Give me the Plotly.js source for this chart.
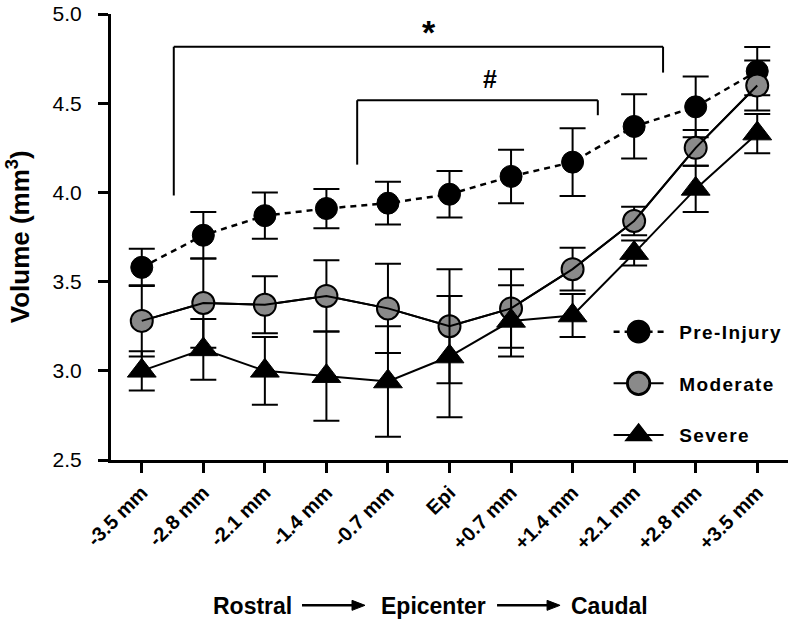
<!DOCTYPE html>
<html>
<head>
<meta charset="utf-8">
<script src="https://cdn.plot.ly/plotly-3.0.1.min.js"></script>
<style>html,body{margin:0;padding:0;background:#fff;}</style>
</head>
<body>
<div id="chart" style="width:792px;height:622px;"></div>
<script>
const categories = ["-3.5 mm","-2.8 mm","-2.1 mm","-1.4 mm","-0.7 mm","Epi","+0.7 mm","+1.4 mm","+2.1 mm","+2.8 mm","+3.5 mm"];
const preInjury = [3.58, 3.76, 3.87, 3.91, 3.94, 3.99, 4.09, 4.17, 4.37, 4.48, 4.68];
const preInjuryErr = [0.105, 0.13, 0.13, 0.11, 0.12, 0.13, 0.15, 0.19, 0.18, 0.17, 0.135];
const moderate = [3.28, 3.38, 3.37, 3.42, 3.35, 3.25, 3.35, 3.57, 3.84, 4.25, 4.60];
const moderateErr = [0.20, 0.25, 0.16, 0.20, 0.25, 0.32, 0.22, 0.12, 0.08, 0.10, 0.14];
const severe = [3.00, 3.12, 3.00, 2.97, 2.94, 3.08, 3.28, 3.31, 3.66, 4.02, 4.33];
const severeErr = [0.11, 0.17, 0.19, 0.25, 0.31, 0.34, 0.20, 0.12, 0.07, 0.13, 0.11];
const seriesNames = ["Pre-Injury", "Moderate", "Severe"];
const yTicks = [2.5, 3.0, 3.5, 4.0, 4.5, 5.0];
// significance brackets: [leftIndex, rightIndex, topValue, leftBottom, rightBottom, label, labelIndex, labelValue, labelSize]
const brackets = [
  [0.52, 8.47, 4.817, 3.983, 4.672, "*", 4.67, 4.90, 34],
  [3.50, 7.41, 4.517, 4.156, 4.433, "#", 5.66, 4.635, 25]
];
const directionLabels = ["Rostral", "Epicenter", "Caudal"];

const FONT = "Liberation Sans, Arial, Helvetica, sans-serif";
const ls = s => '&nbsp;&nbsp;<span style="letter-spacing:1.4px">' + s + '</span>';

function errY(arr) {
  return {type: "data", array: arr, visible: true, color: "#000", thickness: 2, width: 13};
}

const traces = [
  {
    x: categories, y: preInjury, name: ls(seriesNames[0]), legendgroup: "a",
    type: "scatter", mode: "lines+markers",
    line: {color: "#000", width: 2.5, dash: "6px,5px"},
    marker: {symbol: "circle", size: 22, color: "#000", line: {color: "#000", width: 1}},
    error_y: errY(preInjuryErr)
  },
  {
    x: categories, y: moderate, name: ls(seriesNames[1]), legendgroup: "b",
    type: "scatter", mode: "lines+markers",
    line: {color: "#000", width: 2},
    marker: {symbol: "circle", size: 22, color: "#8a8a8a", line: {color: "#000", width: 2}},
    error_y: errY(moderateErr)
  },
  {
    x: categories, y: severe, name: ls(seriesNames[2]), legendgroup: "c",
    type: "scatter", mode: "lines+markers",
    line: {color: "#000", width: 2},
    marker: {symbol: "triangle-up", size: 25, color: "#000", line: {color: "#000", width: 1}},
    error_y: errY(severeErr)
  },
  {
    x: categories, y: moderate, showlegend: false, hoverinfo: "skip",
    type: "scatter", mode: "lines",
    line: {color: "#000", width: 2}
  }
];

const shapes = [];
const annotations = [];
brackets.forEach(b => {
  const [x0, x1, top, lb, rb, label, lx, ly, size] = b;
  const base = {type: "line", xref: "x", yref: "y", line: {color: "#000", width: 2}};
  shapes.push(Object.assign({}, base, {x0: x0, x1: x1, y0: top, y1: top}));
  shapes.push(Object.assign({}, base, {x0: x0, x1: x0, y0: lb, y1: top}));
  shapes.push(Object.assign({}, base, {x0: x1, x1: x1, y0: rb, y1: top}));
  annotations.push({xref: "x", yref: "y", x: lx, y: ly, text: "<b>" + label + "</b>", showarrow: false,
    xanchor: "center", yanchor: "middle", font: {family: FONT, size: size, color: "#000"}});
});

// y axis title
annotations.push({xref: "paper", yref: "paper", x: -0.137, y: 0.5, textangle: -90,
  xanchor: "center", yanchor: "middle",
  text: "<b>Volume (mm<sup>3</sup>)</b>", showarrow: false, font: {family: FONT, size: 26, color: "#000"}});

// direction labels
const dirY = -0.327;
const dirX = [0.2085, 0.477, 0.737];
directionLabels.forEach((t, i) => {
  annotations.push({xref: "paper", yref: "paper", x: dirX[i], y: dirY, text: "<b>" + t + "</b>",
    xanchor: "center", yanchor: "middle",
    showarrow: false, font: {family: FONT, size: 23, color: "#000"}});
});
// arrows between the direction labels (paper units; plot area is 677 x 446 px)
const PX = 1 / 677, PY = 1 / 446;
const arrowHeads = [0.3752, 0.6633];
arrowHeads.forEach(h => {
  const ay = dirY + 0.5 * PY;
  shapes.push({type: "line", xref: "paper", yref: "paper", x0: h - 63 * PX, x1: h - 10 * PX, y0: ay, y1: ay,
    line: {color: "#000", width: 2.5}});
  shapes.push({type: "path", xref: "paper", yref: "paper",
    path: "M" + h + "," + ay + " L" + (h - 13 * PX) + "," + (ay + 5 * PY) + " L" + (h - 13 * PX) + "," + (ay - 5 * PY) + " Z",
    fillcolor: "#000", line: {color: "#000", width: 1}});
});

const layout = {
  width: 792, height: 622,
  margin: {l: 111, r: 4, t: 14, b: 162},
  paper_bgcolor: "#fff", plot_bgcolor: "#fff",
  font: {family: FONT, color: "#000"},
  showlegend: true,
  legend: {x: 0.735, y: 0.33, xanchor: "left", yanchor: "top", bgcolor: "rgba(0,0,0,0)",
    font: {family: FONT, size: 19, weight: "bold", color: "#000"},
    itemwidth: 50, tracegroupgap: 24, traceorder: "grouped"},
  xaxis: {
    type: "category", range: [-0.5, 10.5], showline: true, linewidth: 3, linecolor: "#000",
    ticks: "outside", ticklen: 10, tickwidth: 3, tickcolor: "#000", tickangle: -45,
    tickfont: {family: FONT, size: 20, weight: "bold", color: "#000"},
    showgrid: false, zeroline: false, fixedrange: true
  },
  yaxis: {
    range: [2.5, 5.0005], tickvals: yTicks, ticktext: yTicks.map(v => v.toFixed(1)), showline: true, linewidth: 3, linecolor: "#000",
    ticks: "outside", ticklen: 10, tickwidth: 3, tickcolor: "#000", ticklabelstandoff: 12,
    ticklabeloverflow: "allow",
    tickfont: {family: FONT, size: 21, color: "#000"},
    showgrid: false, zeroline: false, fixedrange: true
  },
  shapes: shapes,
  annotations: annotations
};

Plotly.newPlot("chart", traces, layout, {displayModeBar: false, staticPlot: true}).then(() => {
  document.querySelectorAll("#chart .legend .legendpoints path.scatterpts").forEach(p => {
    const t = p.getAttribute("transform") || "";
    p.setAttribute("transform", t + " scale(1.4)");
  });
});
</script>
</body>
</html>
